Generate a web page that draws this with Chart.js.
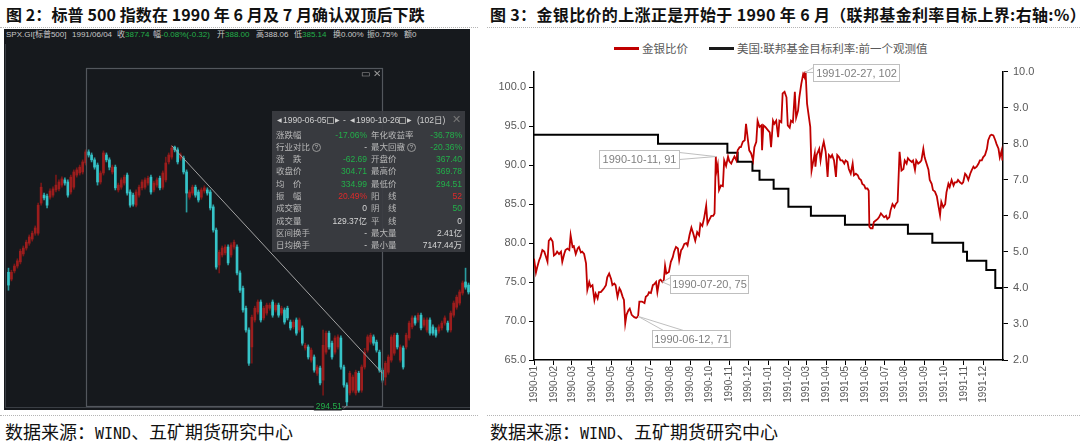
<!DOCTYPE html>
<html><head><meta charset="utf-8">
<script src="https://cdn.jsdelivr.net/npm/chart.js@4.4.1/dist/chart.umd.min.js"></script>
<style>
html,body{margin:0;padding:0;background:#fff;}
#root{position:relative;width:1080px;height:444px;overflow:hidden;font-family:"Noto Sans CJK SC",sans-serif;}
.title{position:absolute;top:4px;font-size:16px;font-weight:700;color:#111;line-height:20px;white-space:nowrap;}
.dot{position:absolute;height:0;border-top:1px dotted #b5b5b5;}
.src{position:absolute;top:420px;font-size:18px;line-height:22px;color:#111;white-space:nowrap;}
.mono{font-family:"DejaVu Sans Mono",monospace;font-size:15px;}
#kpanel{position:absolute;left:4px;top:29px;width:466px;height:381px;background:#16191d;}
#kborder{position:absolute;left:5px;top:44px;width:465px;height:364px;border-left:1px solid #3a3e44;border-bottom:1px solid #3a3e44;box-sizing:border-box;}
#kwrap{position:absolute;left:7px;top:44px;width:463px;height:368px;}
.hd{position:absolute;top:29px;line-height:12px;font-size:8px;color:#c8c8c8;white-space:nowrap;font-family:"Liberation Sans","Noto Sans CJK SC",sans-serif;}
.g{color:#23b04a;}
.r{color:#e02a2a;}
.w{color:#d6d6d6;}
#info{position:absolute;left:272px;top:111px;width:193px;height:141px;background:rgba(58,61,66,0.94);font-family:"Liberation Sans","Noto Sans CJK SC",sans-serif;font-size:8.5px;color:#b8b8b8;}
#info .row{position:absolute;left:0;width:193px;height:12px;line-height:12px;white-space:nowrap;}
#info .row span{position:absolute;top:0;}
#info .l1{left:4px;} #info .v1{right:98px;} #info .l2{left:99px;} #info .v2{right:3px;}
.q{display:inline-block;width:7px;height:7px;border:1px solid #9a9a9a;border-radius:50%;font-size:6px;line-height:7px;text-align:center;margin-left:2px;vertical-align:middle;position:static !important;}
.ih{position:absolute;top:3px;line-height:12px;white-space:nowrap;color:#cfcfcf;}
.cal{position:absolute;top:6px;width:5px;height:5px;border:1px solid #9a9a9a;}
#rwrap{position:absolute;left:487px;top:60px;width:593px;height:350px;}
.lg{position:absolute;font-size:11.5px;color:#595959;line-height:16px;top:40px;white-space:nowrap;}
.lgl{position:absolute;top:47px;height:3px;width:25px;}
</style></head>
<body><div id="root">
<div class="title" style="left:6px;letter-spacing:0.1px;">图 2：标普 500 指数在 1990 年 6 月及 7 月确认双顶后下跌</div>
<div class="title" style="left:490px;letter-spacing:0.35px;">图 3：金银比价的上涨正是开始于 1990 年 6 月（联邦基金利率目标上界:右轴:%）</div>
<div class="dot" style="left:0;top:27px;width:478px;"></div>
<div class="dot" style="left:487px;top:27px;width:593px;"></div>
<div class="dot" style="left:0;top:415px;width:478px;"></div>
<div class="dot" style="left:487px;top:415px;width:593px;"></div>
<div class="src" style="left:5px;">数据来源：<span class="mono">WIND</span>、五矿期货研究中心</div>
<div class="src" style="left:490px;">数据来源：<span class="mono">WIND</span>、五矿期货研究中心</div>

<div id="kpanel"></div>
<div id="kborder"></div>
<div class="hd" style="left:6px;">SPX.GI[标普500]</div>
<div class="hd" style="left:72px;">1991/06/04</div>
<div class="hd" style="left:117px;">收<span class="g">387.74</span></div>
<div class="hd" style="left:153px;">幅<span class="g">-0.08%(-0.32)</span></div>
<div class="hd" style="left:217px;">开<span class="g">388.00</span></div>
<div class="hd" style="left:256px;">高388.06</div>
<div class="hd" style="left:294px;">低<span class="g">385.14</span></div>
<div class="hd" style="left:333px;">换0.00%</div>
<div class="hd" style="left:367px;">振0.75%</div>
<div class="hd" style="left:404px;">额0</div>
<div id="kwrap"><canvas id="kc"></canvas></div>
<div class="hd" style="left:361px;top:68px;color:#9a9a9a;font-size:10px;">▭</div>
<div class="hd" style="left:373px;top:68px;color:#9a9a9a;font-size:10px;">✕</div>

<div id="info">
  <span class="ih" style="left:5px;font-family:'DejaVu Sans';font-size:6px;">◀</span>
  <span class="ih" style="left:11px;">1990-06-05</span>
  <span class="cal" style="left:55px;"></span>
  <span class="ih" style="left:63px;font-family:'DejaVu Sans';font-size:6px;">▶</span>
  <span class="ih" style="left:71px;">-</span>
  <span class="ih" style="left:78px;font-family:'DejaVu Sans';font-size:6px;">◀</span>
  <span class="ih" style="left:84px;">1990-10-26</span>
  <span class="cal" style="left:127px;"></span>
  <span class="ih" style="left:135px;font-family:'DejaVu Sans';font-size:6px;">▶</span>
  <span class="ih" style="left:145px;">(102日)</span>
  <span class="ih" style="left:180px;top:2px;font-size:11px;color:#777;">✕</span>
  <div id="rows"></div>
</div>

<div class="lgl" style="left:614px;background:#c00000;"></div>
<div class="lg" style="left:642px;">金银比价</div>
<div class="lgl" style="left:709px;background:#1a1a1a;"></div>
<div class="lg" style="left:737px;">美国:联邦基金目标利率:前一个观测值</div>
<div id="rwrap"><canvas id="rc"></canvas></div>
</div>
<script>
// ===== Figure 2: S&P 500 daily candles =====
const open  = [333.2,331.2,333.6,335.0,336.2,338.5,340.2,341.6,342.8,344.5,344.5,353.2,355.5,355.2,354.9,355.5,357.0,357.3,358.4,359.9,
359.3,356.4,357.8,361.3,361.9,362.2,364.8,368.0,367.1,365.7,364.2,359.3,361.9,367.1,365.7,362.2,363.6,357.0,357.8,359.0,
361.3,356.4,355.5,352.6,355.5,357.6,357.8,359.0,360.7,357.0,358.4,360.4,357.8,359.9,365.1,366.5,369.4,368.6,366.2,366.2,
362.2,354.9,356.1,357.8,356.4,354.9,356.7,357.0,356.4,352.1,345.4,335.3,338.2,338.8,340.5,338.2,340.5,340.5,333.0,328.6,
322.8,316.5,311.6,319.4,321.7,324.6,320.0,321.4,322.8,324.6,322.3,323.7,321.4,322.3,322.8,318.8,317.4,319.4,316.5,317.1,
311.3,311.6,307.8,308.7,304.0,305.5,302.0,310.1,315.6,312.7,310.1,311.6,314.2,305.8,300.6,298.3,299.1,298.3,304.0,299.1,
305.8,310.7,313.0,314.5,313.0,310.1,304.9,302.9,304.3,307.8,309.8,315.0,307.8,311.3,311.6,314.2,317.4,320.0,319.4,320.8,
317.9,316.5,319.4,317.4,316.5,316.2,317.1,318.5,318.5,316.5,320.8,323.1,324.3,327.2,330.4,329.5];
const high  = [334.4,333.8,335.6,337.1,339.9,340.8,342.5,344.0,345.1,346.6,353.2,359.0,356.1,355.8,357.3,357.9,361.3,359.9,360.8,360.5,
359.9,361.3,362.8,363.4,364.2,365.7,368.6,368.6,367.7,366.3,364.8,362.5,368.3,367.7,366.3,364.2,364.2,359.0,360.5,361.3,
361.9,357.0,356.1,357.0,358.4,359.9,360.5,361.0,361.3,359.6,360.5,361.0,362.5,366.5,367.7,369.78,369.7,369.2,367.7,366.8,
362.8,357.0,358.4,358.4,357.0,357.6,358.2,357.6,357.0,352.7,346.0,339.6,340.8,341.1,341.1,341.7,342.5,341.1,333.6,329.2,
323.4,317.1,320.8,323.4,325.2,325.2,323.4,324.3,324.3,325.2,324.3,324.3,323.4,322.9,323.4,319.4,319.4,320.0,320.0,317.7,
312.7,312.2,311.3,309.3,306.4,306.1,316.5,316.2,316.2,313.3,314.8,315.1,314.8,306.4,301.2,304.6,303.5,304.9,304.6,306.4,
311.2,315.1,315.6,315.1,313.6,310.7,305.5,307.5,309.3,315.1,315.6,315.6,312.2,311.9,315.6,319.1,320.6,320.6,321.4,321.4,
320.0,320.0,320.0,318.0,317.1,318.0,319.1,320.6,319.1,322.0,324.9,326.6,328.1,330.7,334.4,330.1];
const low   = [328.0,330.7,333.0,334.4,335.6,337.9,339.6,341.0,342.2,343.9,343.9,352.6,354.1,351.8,354.3,354.9,356.4,356.7,357.8,358.4,
354.9,355.8,357.2,360.7,361.3,361.6,364.2,366.5,365.1,363.0,358.4,358.7,361.3,365.1,362.8,361.6,357.0,356.4,357.2,358.4,
355.5,352.0,352.3,352.1,354.9,357.0,357.2,358.4,355.8,356.4,357.8,357.0,357.2,359.3,364.5,365.9,368.0,364.5,365.6,361.6,
350.6,354.3,355.5,354.9,353.5,354.3,356.1,355.5,351.2,344.8,334.1,333.0,337.6,338.2,335.3,337.6,339.9,332.4,327.4,321.7,
315.9,306.3,306.9,318.8,321.1,318.8,319.4,320.8,322.2,320.2,321.7,320.2,320.8,318.2,319.4,316.5,316.8,315.0,315.9,312.1,
310.7,308.1,307.2,304.3,303.4,300.6,297.7,309.5,311.0,308.1,309.5,311.0,305.2,300.0,294.51,297.7,298.5,297.7,298.5,298.5,
305.2,310.1,312.4,312.1,310.1,304.3,301.4,300.6,303.7,307.2,309.2,311.0,307.2,305.2,311.0,313.6,316.8,317.9,318.8,316.5,
317.3,315.9,315.0,315.0,314.4,315.6,316.5,317.9,315.9,315.9,320.2,322.5,323.7,326.6,328.3,326.9];
const close = [329.5,333.2,335.0,336.5,339.3,340.2,341.9,343.4,344.5,346.0,352.6,357.8,354.7,352.6,356.7,357.3,358.4,359.3,360.2,359.0,
355.5,360.7,362.2,362.8,363.6,365.1,368.0,367.1,365.7,363.6,359.3,361.9,367.7,365.7,363.6,363.6,357.6,358.4,359.9,360.7,
356.1,352.6,352.9,356.4,357.8,359.3,359.9,360.4,356.4,359.0,359.9,357.6,361.9,364.8,367.1,369.1,368.6,365.1,367.1,362.2,
356.1,356.4,357.8,355.5,354.1,357.0,357.6,356.1,351.8,345.4,334.7,339.0,340.2,340.5,335.9,341.1,341.9,333.0,328.0,322.3,
316.5,306.9,320.2,322.8,324.6,319.4,322.8,323.7,323.7,320.8,323.7,320.8,322.8,318.8,320.0,317.1,318.8,315.6,319.4,312.7,
312.1,308.7,310.7,304.9,305.8,301.2,312.1,315.6,311.6,308.7,314.2,314.5,305.8,300.6,295.7,304.0,302.9,304.3,299.1,305.8,
310.1,314.5,315.0,312.7,310.7,304.9,302.0,306.9,308.7,314.5,315.0,311.6,311.6,305.8,315.0,318.5,320.0,318.5,320.8,317.1,
319.4,319.4,315.6,315.6,315.0,317.4,318.5,320.0,316.5,321.4,324.3,326.0,327.5,330.1,328.9,327.5];
// selected interval (1990-06-05 .. 1990-10-26) and drawn trend line, as candle indices
const selectionRange = [26, 126];
const trendFrom = [55, 369.78];
const trendTo   = [126, 304.0];

// ===== Figure 3: gold/silver ratio and Fed funds target =====
const monthLabels = ['1990-01','1990-02','1990-03','1990-04','1990-05','1990-06','1990-07','1990-08','1990-09','1990-10','1990-11','1990-12',
'1991-01','1991-02','1991-03','1991-04','1991-05','1991-06','1991-07','1991-08','1991-09','1991-10','1991-11','1991-12'];
const ratioDates = ['1990-01-01','1990-01-04','1990-01-06','1990-01-09','1990-01-11','1990-01-14','1990-01-17','1990-01-19','1990-01-22','1990-01-24','1990-01-27','1990-01-30',
'1990-02-01','1990-02-04','1990-02-06','1990-02-09','1990-02-12','1990-02-14','1990-02-17','1990-02-19','1990-02-22','1990-02-25','1990-02-27',
'1990-03-02','1990-03-04','1990-03-07','1990-03-10','1990-03-12','1990-03-15','1990-03-17','1990-03-20','1990-03-23','1990-03-25','1990-03-28','1990-03-30',
'1990-04-02','1990-04-05','1990-04-07','1990-04-10','1990-04-12','1990-04-15','1990-04-18','1990-04-20','1990-04-23','1990-04-25','1990-04-28',
'1990-05-01','1990-05-03','1990-05-06','1990-05-08','1990-05-11','1990-05-14','1990-05-16','1990-05-19','1990-05-21','1990-05-23','1990-05-25','1990-05-28','1990-05-30',
'1990-06-02','1990-06-06','1990-06-09','1990-06-12','1990-06-14','1990-06-18','1990-06-22','1990-06-24','1990-06-27','1990-06-29',
'1990-07-02','1990-07-05','1990-07-07','1990-07-10','1990-07-12','1990-07-15','1990-07-17','1990-07-20','1990-07-22','1990-07-24','1990-07-26','1990-07-30',
'1990-08-02','1990-08-05','1990-08-07','1990-08-10','1990-08-13','1990-08-15','1990-08-18','1990-08-20','1990-08-23','1990-08-26','1990-08-28','1990-08-31',
'1990-09-03','1990-09-06','1990-09-09','1990-09-12','1990-09-15','1990-09-17','1990-09-20','1990-09-23','1990-09-26','1990-09-28',
'1990-10-01','1990-10-04','1990-10-07','1990-10-09','1990-10-11','1990-10-12','1990-10-14','1990-10-16','1990-10-19','1990-10-22','1990-10-24','1990-10-27','1990-10-30',
'1990-11-01','1990-11-04','1990-11-06','1990-11-09','1990-11-12','1990-11-14','1990-11-17','1990-11-19','1990-11-22','1990-11-25','1990-11-27','1990-11-30',
'1990-12-02','1990-12-05','1990-12-08','1990-12-10','1990-12-13','1990-12-15','1990-12-18','1990-12-21','1990-12-22','1990-12-24','1990-12-27','1990-12-31',
'1991-01-03','1991-01-05','1991-01-08','1991-01-10','1991-01-13','1991-01-16','1991-01-18','1991-01-21','1991-01-23','1991-01-26','1991-01-29','1991-01-31',
'1991-02-03','1991-02-05','1991-02-08','1991-02-11','1991-02-13','1991-02-16','1991-02-18','1991-02-21','1991-02-24','1991-02-26','1991-02-27','1991-02-28',
'1991-03-02','1991-03-05','1991-03-07','1991-03-09','1991-03-11','1991-03-14','1991-03-15','1991-03-17','1991-03-21','1991-03-23','1991-03-26','1991-03-28','1991-03-31',
'1991-04-03','1991-04-05','1991-04-08','1991-04-10','1991-04-13','1991-04-16','1991-04-18','1991-04-21','1991-04-23','1991-04-26','1991-04-29',
'1991-05-01','1991-05-04','1991-05-06','1991-05-09','1991-05-12','1991-05-14','1991-05-17','1991-05-20','1991-05-22','1991-05-25','1991-05-27','1991-05-30',
'1991-06-01','1991-06-04','1991-06-06','1991-06-07','1991-06-09','1991-06-12','1991-06-14','1991-06-17','1991-06-20','1991-06-22','1991-06-25','1991-06-27','1991-06-30',
'1991-07-03','1991-07-05','1991-07-08','1991-07-10','1991-07-13','1991-07-16','1991-07-18','1991-07-21','1991-07-24','1991-07-27','1991-07-30',
'1991-08-01','1991-08-04','1991-08-06','1991-08-09','1991-08-12','1991-08-14','1991-08-17','1991-08-19','1991-08-22','1991-08-25','1991-08-27','1991-08-30',
'1991-09-01','1991-09-04','1991-09-07','1991-09-09','1991-09-12','1991-09-14','1991-09-17','1991-09-20','1991-09-22','1991-09-25','1991-09-27','1991-09-30',
'1991-10-03','1991-10-05','1991-10-08','1991-10-10','1991-10-13','1991-10-16','1991-10-18','1991-10-21','1991-10-23','1991-10-26','1991-10-29','1991-10-31',
'1991-11-03','1991-11-05','1991-11-08','1991-11-11','1991-11-13','1991-11-16','1991-11-18','1991-11-21','1991-11-24','1991-11-26','1991-11-29',
'1991-12-01','1991-12-04','1991-12-07','1991-12-09','1991-12-12','1991-12-14','1991-12-17','1991-12-20','1991-12-22','1991-12-25','1991-12-27','1991-12-30','1991-12-31'];
const ratioValues = [78.0,76.2,76.9,77.8,78.2,79.1,78.9,78.4,77.6,80.3,80.6,80.2,
78.4,78.6,78.9,78.6,78.9,77.6,78.6,79.1,79.3,79.1,81.0,
79.5,79.6,78.6,79.3,79.5,78.8,78.9,78.6,77.4,74.0,75.0,74.4,
74.6,72.7,73.5,72.9,73.7,73.7,74.0,74.2,74.6,75.6,76.1,
75.4,74.6,74.8,74.6,73.1,74.2,73.9,73.1,72.7,69.7,70.8,71.4,71.6,
70.8,70.5,70.4,70.6,72.5,72.5,72.3,73.1,73.3,73.7,
73.6,74.6,74.7,75.0,73.7,75.2,75.3,75.0,75.2,77.1,76.1,76.3,
77.6,78.2,78.9,79.5,79.3,77.8,79.1,79.3,79.9,80.0,79.7,81.0,
82.0,81.2,80.3,81.4,81.0,82.5,82.2,83.3,84.8,82.5,
83.0,83.5,83.5,83.8,91.1,89.2,90.0,86.8,87.4,87.3,90.6,89.9,91.1,
90.5,90.2,90.6,91.1,90.6,91.9,92.3,92.3,93.0,93.2,95.3,93.2,
91.9,91.5,90.6,92.3,93.0,95.7,94.9,95.1,91.9,95.1,94.9,94.5,
94.2,92.3,95.7,95.3,95.7,93.6,95.7,95.5,99.2,99.4,98.7,95.1,
94.8,95.7,95.5,99.4,96.1,97.0,98.7,100.4,101.7,101.3,101.9,101.5,
97.9,96.1,94.9,89.3,90.2,91.5,89.8,91.3,92.1,90.6,92.3,93.0,91.7,
88.5,91.3,91.0,91.3,90.6,88.5,91.3,91.0,90.6,90.6,90.2,
90.6,90.4,89.5,88.9,90.2,88.7,88.9,88.7,88.3,88.1,87.6,87.4,
87.0,87.0,86.7,82.1,81.9,81.9,82.7,82.9,83.1,83.3,83.8,83.6,83.3,
83.5,83.1,83.3,84.2,85.0,84.6,85.0,85.3,91.7,89.3,89.5,
90.6,90.2,90.9,90.6,90.4,90.6,89.4,90.6,90.2,90.4,90.6,92.1,
91.0,90.2,89.4,88.1,87.6,86.8,86.6,86.0,85.0,83.6,85.3,84.6,
85.0,86.5,87.6,87.2,88.1,87.4,87.8,87.8,88.1,87.8,87.6,87.8,
88.9,88.7,88.1,88.9,89.3,89.8,89.6,89.8,90.2,90.6,90.6,
91.0,91.3,92.1,93.2,93.8,93.9,93.8,93.2,92.7,92.1,91.0,91.9,90.6];
const fedDates  = ['1990-01-01','1990-07-13','1990-10-29','1990-11-14','1990-12-07','1990-12-18','1991-01-09','1991-02-01','1991-03-08','1991-04-30','1991-08-06','1991-09-13','1991-10-31','1991-11-06','1991-12-06','1991-12-20','1991-12-31'];
const fedValues = [8.25,8.0,7.75,7.5,7.25,7.0,6.75,6.25,6.0,5.75,5.5,5.25,5.0,4.75,4.5,4.0,4.0];
const leftAxisTicks  = [65,70,75,80,85,90,95,100];
const rightAxisTicks = [2,3,4,5,6,7,8,9,10];
const calloutDates = ['1991-02-27','1990-10-11','1990-07-20','1990-06-12'];

// ---------- info panel rows (text of the Wind overlay) ----------
const infoRows = [
 ['涨跌幅','-17.06%','g','年化收益率','-36.78%','g'],
 ['行业对比?','-','w','最大回撤?','-20.36%','g'],
 ['涨　跌','-62.69','g','开盘价','367.40','g'],
 ['收盘价','304.71','g','最高价','369.78','g'],
 ['均　价','334.99','g','最低价','294.51','g'],
 ['振　幅','20.49%','r','阳　线','52','r'],
 ['成交额','0','w','阴　线','50','g'],
 ['成交量','129.37亿','w','平　线','0','w'],
 ['区间换手','-','w','最大量','2.41亿','w'],
 ['日均换手','-','w','最小量','7147.44万','w']
];
(function(){
  const host = document.getElementById('rows');
  const lab = t => t.endsWith('?') ? t.slice(0,-1)+'<span class="q">?</span>' : t;
  infoRows.forEach((r,i)=>{
    const d = document.createElement('div');
    d.className='row';
    d.style.top = (17.5 + i*12.3)+'px';
    d.innerHTML = '<span class="l1">'+lab(r[0])+'</span><span class="v1 '+r[2]+'">'+r[1]+'</span>'+
                  '<span class="l2">'+lab(r[3])+'</span><span class="v2 '+r[5]+'">'+r[4]+'</span>';
    host.appendChild(d);
  });
})();

// ---------- candle chart ----------
const UP_BODY='#9c1d1d', UP_WICK='#761818', DN_BODY='#36c4c8', DN_WICK='#2a9ca0';
const isUp = close.map((c,i)=>c>=open[i]);
const kOverlay = {
  id:'kOverlay',
  afterDatasetsDraw(chart){
    const {ctx, scales:{x,y}, chartArea} = chart;
    ctx.save();
    const lows = low.slice(selectionRange[0], selectionRange[1]+1);
    const minLow = Math.min(...lows);
    const x0 = Math.round(x.getPixelForValue(selectionRange[0]))+0.5;
    const x1 = Math.round(x.getPixelForValue(selectionRange[1]))+0.5;
    const yTop = chartArea.top + 24.5;
    const yBot = Math.round(y.getPixelForValue(minLow))+0.5;
    ctx.strokeStyle='#53575d'; ctx.lineWidth=1.2;
    ctx.strokeRect(x0, yTop, x1-x0, yBot-yTop);
    ctx.strokeStyle='#a3a3a3'; ctx.lineWidth=1;
    ctx.beginPath();
    ctx.moveTo(x.getPixelForValue(trendFrom[0]), y.getPixelForValue(trendFrom[1]));
    ctx.lineTo(x.getPixelForValue(trendTo[0]), y.getPixelForValue(trendTo[1]));
    ctx.stroke();
    const iLow = selectionRange[0] + lows.indexOf(minLow);
    const lx = x.getPixelForValue(iLow);
    ctx.font='8.5px "Liberation Sans", sans-serif';
    const txt = minLow.toFixed(2);
    const tw = ctx.measureText(txt).width;
    ctx.fillStyle='#16191d';
    ctx.fillRect(lx-6-tw-1, yBot-4, tw+2, 8);
    ctx.fillStyle='#23b04a'; ctx.textAlign='right'; ctx.textBaseline='middle';
    ctx.fillText(txt, lx-5, yBot);
    ctx.strokeStyle='#8a8a8a'; ctx.lineWidth=1;
    ctx.beginPath(); ctx.moveTo(lx-3, yBot+2); ctx.lineTo(lx, yBot-1); ctx.stroke();
    ctx.restore();
  }
};
new Chart(document.getElementById('kc'), {
  type:'bar',
  data:{
    labels: open.map((_,i)=>String(i)),
    datasets:[
      {data: open.map((o,i)=>[o, close[i]]), backgroundColor: isUp.map(u=>u?UP_BODY:DN_BODY), barThickness:2, minBarLength:1, grouped:false, borderWidth:0},
      {data: low.map((l,i)=>[l, high[i]]), backgroundColor: isUp.map(u=>u?UP_WICK:DN_WICK), barThickness:1, grouped:false, borderWidth:0}
    ]
  },
  options:{
    responsive:true, maintainAspectRatio:false, animation:false, events:[],
    layout:{padding:0},
    plugins:{legend:{display:false}, tooltip:{enabled:false}},
    scales:{
      x:{display:false, offset:true},
      y:{display:false, min:292.8, max:399.2}
    }
  },
  plugins:[kOverlay]
});

// ---------- ratio chart ----------
const BASE = Date.UTC(1990,0,1);
const dayOf = s => { const [Y,M,D] = s.split('-').map(Number); return (Date.UTC(Y,M-1,D)-BASE)/864e5; };
const monthDays = monthLabels.map(m=>dayOf(m+'-01'));
const ratioPts = ratioDates.map((d,i)=>({x:dayOf(d), y:ratioValues[i]}));
const fedPts = fedDates.map((d,i)=>({x:dayOf(d), y:fedValues[i]}));
const calloutLayout = {
  '1991-02-27':{dx:8,  dy:-8, w:86, h:17, edge:'left',  a:3, b:8},
  '1990-10-11':{dx:-117,dy:-7,w:80, h:18, edge:'right', a:2, b:9},
  '1990-07-20':{dx:8,  dy:-7, w:78, h:18, edge:'left',  a:2, b:10},
  '1990-06-12':{dx:14, dy:14, w:78, h:17, edge:'top',   a:11, b:31}
};
const callouts = {
  id:'callouts',
  afterDatasetsDraw(chart){
    const {ctx, scales:{x,y}} = chart;
    ctx.save();
    ctx.font='11px "Liberation Sans", Arial, sans-serif';
    calloutDates.forEach(d=>{
      const i = ratioDates.indexOf(d); if(i<0) return;
      const v = ratioValues[i];
      const L = calloutLayout[d];
      const px = x.getPixelForValue(dayOf(d)), py = y.getPixelForValue(v);
      const bx = Math.round(px+L.dx)+0.5, by = Math.round(py+L.dy)+0.5;
      let p1,p2;
      if(L.edge==='left'){p1=[bx,by+L.a];p2=[bx,by+L.b];}
      else if(L.edge==='right'){p1=[bx+L.w,by+L.a];p2=[bx+L.w,by+L.b];}
      else {p1=[bx+L.a,by];p2=[bx+L.b,by];}
      ctx.strokeStyle='#bfbfbf'; ctx.lineWidth=1; ctx.fillStyle='#fff';
      ctx.beginPath(); ctx.moveTo(px,py); ctx.lineTo(p1[0],p1[1]); ctx.lineTo(p2[0],p2[1]); ctx.closePath();
      ctx.fill(); ctx.stroke();
      ctx.fillRect(bx,by,L.w,L.h); ctx.strokeRect(bx,by,L.w,L.h);
      ctx.fillStyle='#7f7f7f'; ctx.textAlign='center'; ctx.textBaseline='middle';
      ctx.fillText(d+', '+Math.round(v), bx+L.w/2, by+L.h/2+0.5);
    });
    ctx.restore();
  }
};
const tickFont = {family:'"Liberation Sans", Arial, sans-serif', size:11};
new Chart(document.getElementById('rc'), {
  type:'line',
  data:{datasets:[
    {label:'金银比价', data:ratioPts, borderColor:'#c00000', borderWidth:1.8, pointRadius:0, tension:0, yAxisID:'y'},
    {label:'美国:联邦基金目标利率:前一个观测值', data:fedPts, borderColor:'#000', borderWidth:2, pointRadius:0, stepped:true, yAxisID:'y1'}
  ]},
  options:{
    responsive:true, maintainAspectRatio:false, animation:false, events:[],
    layout:{padding:{top:11,left:0,right:0,bottom:0}},
    plugins:{legend:{display:false}, tooltip:{enabled:false}},
    scales:{
      x:{type:'linear', min:0, max:730,
         afterBuildTicks(s){ s.ticks = monthDays.map(v=>({value:v})); },
         afterFit(s){ s.height = 50; },
         ticks:{autoSkip:false, minRotation:90, maxRotation:90, padding:1, color:'#595959',
                font:{family:'"Liberation Sans", Arial, sans-serif', size:10},
                callback:(v)=>{ const k = monthDays.indexOf(v); return k>=0?monthLabels[k]:''; }},
         grid:{drawOnChartArea:false, drawTicks:true, tickLength:5, color:'#000'},
         border:{display:true, color:'#000', width:1.5}},
      y:{position:'left', min:65, max:102,
         afterBuildTicks(s){ s.ticks = leftAxisTicks.map(v=>({value:v})); },
         afterFit(s){ s.width = 47; },
         ticks:{color:'#595959', font:tickFont, padding:3, callback:v=>Number(v).toFixed(1)},
         grid:{drawOnChartArea:false, drawTicks:true, tickLength:5, color:'#000'},
         border:{display:true, color:'#000', width:1.5}},
      y1:{position:'right', min:2, max:10,
         afterBuildTicks(s){ s.ticks = rightAxisTicks.map(v=>({value:v})); },
         afterFit(s){ s.width = 77; },
         ticks:{color:'#595959', font:tickFont, padding:5, callback:v=>Number(v).toFixed(1)},
         grid:{drawOnChartArea:false, drawTicks:true, tickLength:5, color:'#000'},
         border:{display:true, color:'#000', width:1.5}}
    }
  },
  plugins:[callouts]
});
</script>
</body></html>
